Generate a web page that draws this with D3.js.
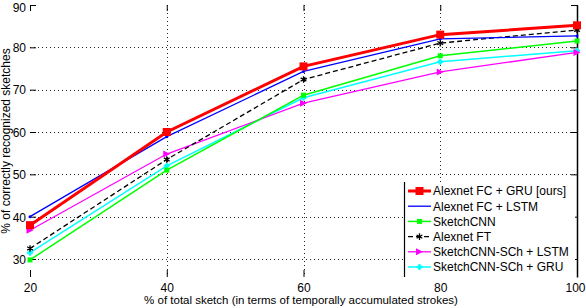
<!DOCTYPE html>
<html>
<head>
<meta charset="utf-8">
<script src="https://cdn.jsdelivr.net/npm/d3@7"></script>
<style>
  html, body { margin: 0; padding: 0; background: #fff; }
  svg { display: block; font-family: "Liberation Sans", Arial, sans-serif; }
</style>
</head>
<body>
<svg id="chart" width="586" height="308"></svg>
<script>
const xValues = [20, 40, 60, 80, 100];
const xTicks = [20, 40, 60, 80, 100];
const yTicks = [30, 40, 50, 60, 70, 80, 90];

const seriesNames = [
  "Alexnet FC + GRU [ours]",
  "Alexnet FC + LSTM",
  "SketchCNN",
  "Alexnet FT",
  "SketchCNN-SCh + LSTM",
  "SketchCNN-SCh + GRU"
];
const alexnetGru   = [38.0, 60.0, 75.5, 83.0, 85.2];
const alexnetLstm  = [40.0, 58.9, 74.3, 82.0, 82.7];
const sketchCnn    = [29.8, 51.0, 68.7, 78.0, 81.5];
const alexnetFt    = [32.5, 53.5, 72.4, 81.0, 84.1];
const schLstm      = [36.8, 54.8, 66.8, 74.2, 78.8];
const schGru       = [31.5, 52.0, 68.1, 76.6, 79.2];

const styles = [
  {color: "#ff0000", width: 3,   dash: null,  marker: "square", size: 8},
  {color: "#0000ff", width: 1.3, dash: null,  marker: "dot",    size: 3},
  {color: "#00ff00", width: 1.5, dash: null,  marker: "square", size: 5},
  {color: "#000000", width: 1.3, dash: "5,3", marker: "star",   size: 5},
  {color: "#ff00ff", width: 1.3, dash: null,  marker: "tri",    size: 7},
  {color: "#00ffff", width: 1.5, dash: null,  marker: "plus",   size: 6}
];
const allValues = [alexnetGru, alexnetLstm, sketchCnn, alexnetFt, schLstm, schGru];

const svg = d3.select("#chart");
const x = d3.scaleLinear().domain([20, 100]).range([30, 577]);
const y = d3.scaleLinear().domain([25.75, 90]).range([277, 5]);
const [x0, x1] = x.range();
const [yb, yt] = y.range();

// grid
const grid = svg.append("g").attr("stroke", "#000").attr("stroke-width", 1)
  .attr("stroke-dasharray", "1,3").attr("opacity", 0.85);
xTicks.slice(1, -1).forEach(t => {
  grid.append("line").attr("x1", Math.round(x(t)) + 0.5).attr("x2", Math.round(x(t)) + 0.5)
    .attr("y1", yt).attr("y2", yb);
});
yTicks.slice(0, -1).forEach(t => {
  grid.append("line").attr("x1", x0).attr("x2", x1)
    .attr("y1", Math.round(y(t)) + 0.5).attr("y2", Math.round(y(t)) + 0.5);
});

// axes (ticks inward)
const axL = svg.append("g").attr("transform", `translate(${x0},0)`)
  .call(d3.axisLeft(y).tickValues(yTicks).tickSizeInner(-6).tickSizeOuter(0).tickPadding(4));
const axR = svg.append("g").attr("transform", `translate(${x1},0)`)
  .call(d3.axisRight(y).tickValues(yTicks).tickSizeInner(-6).tickSizeOuter(0).tickFormat(""));
const axB = svg.append("g").attr("transform", `translate(0,${yb})`)
  .call(d3.axisBottom(x).tickValues(xTicks).tickSizeInner(-7).tickSizeOuter(0).tickPadding(6));
const axT = svg.append("g").attr("transform", `translate(0,${yt})`)
  .call(d3.axisTop(x).tickValues(xTicks).tickSizeInner(-6).tickSizeOuter(0).tickFormat(""));
[axL, axB, axT].forEach(a => a.select(".domain").remove());
axR.select(".domain").attr("stroke", "#000").attr("stroke-width", 1.5);
[axL, axR, axB, axT].forEach(a => {
  a.selectAll(".tick line").attr("stroke", "#000");
  a.selectAll("text").attr("font-size", 12).attr("fill", "#000")
    .attr("font-family", "Liberation Sans, Arial, sans-serif");
});
axL.selectAll(".tick text").attr("dy", "0.36em");
axL.selectAll(".tick").filter(d => d === 90).select("text").attr("dy", "0.5em");
axB.selectAll(".tick").filter(d => d === 100).select("text").attr("text-anchor", "end").attr("dx", 8);

// axis labels
svg.append("text").attr("x", 301).attr("y", 304).attr("text-anchor", "middle")
  .attr("font-size", 11.5).text("% of total sketch (in terms of temporally accumulated strokes)");
svg.append("text").attr("transform", "translate(10,141) rotate(-90)").attr("text-anchor", "middle")
  .attr("font-size", 12).text("% of correctly recognized sketches");

function drawMarker(g, st, cx, cy) {
  const s = st.size;
  if (st.marker === "square") {
    g.append("rect").attr("x", cx - s / 2).attr("y", cy - s / 2).attr("width", s).attr("height", s)
      .attr("fill", st.color);
  } else if (st.marker === "dot") {
    g.append("circle").attr("cx", cx).attr("cy", cy).attr("r", s / 2).attr("fill", st.color);
  } else if (st.marker === "tri") {
    g.append("path").attr("d", `M${cx - s / 2},${cy - s / 2}L${cx + s / 2},${cy}L${cx - s / 2},${cy + s / 2}Z`)
      .attr("fill", st.color);
  } else if (st.marker === "star") {
    g.append("path").attr("d", d3.symbol(d3.symbolAsterisk, 30)())
      .attr("transform", `translate(${cx},${cy})`).attr("stroke", st.color).attr("stroke-width", 1.3).attr("fill", "none");
  } else if (st.marker === "plus") {
    g.append("path").attr("d", `M${cx - s / 2},${cy}H${cx + s / 2}M${cx},${cy - s / 2}V${cy + s / 2}`)
      .attr("stroke", st.color).attr("stroke-width", 2);
    g.append("circle").attr("cx", cx).attr("cy", cy).attr("r", 2.2).attr("fill", st.color);
  }
}

// series: draw in reverse so red is on top
const line = d3.line().x((d, i) => x(xValues[i])).y(d => y(d));
const order = [5, 4, 3, 2, 1, 0];
order.forEach(k => {
  const st = styles[k];
  const g = svg.append("g");
  g.append("path").attr("d", line(allValues[k])).attr("fill", "none")
    .attr("stroke", st.color).attr("stroke-width", st.width)
    .attr("stroke-dasharray", st.dash);
  allValues[k].forEach((v, i) => drawMarker(g, st, x(xValues[i]), y(v)));
});

// legend
const lg = svg.append("g");
const lx = 404, ly = 182, lw = 171, lh = 95;
lg.append("rect").attr("x", lx).attr("y", ly).attr("width", lw).attr("height", lh).attr("fill", "#fff");
lg.append("line").attr("x1", lx + 0.5).attr("x2", lx + 0.5).attr("y1", ly).attr("y2", ly + lh)
  .attr("stroke", "#000").attr("stroke-width", 1.2);
seriesNames.forEach((name, k) => {
  const st = styles[k];
  const cy = 191 + k * 15.2;
  lg.append("line").attr("x1", 408).attr("x2", 431).attr("y1", cy).attr("y2", cy)
    .attr("stroke", st.color).attr("stroke-width", st.width).attr("stroke-dasharray", st.dash);
  if (k !== 1) drawMarker(lg, st, 419.5, cy);
  lg.append("text").attr("x", 433).attr("y", cy + 4.3).attr("font-size", 12).attr("fill", "#000").text(name);
});
</script>
</body>
</html>
